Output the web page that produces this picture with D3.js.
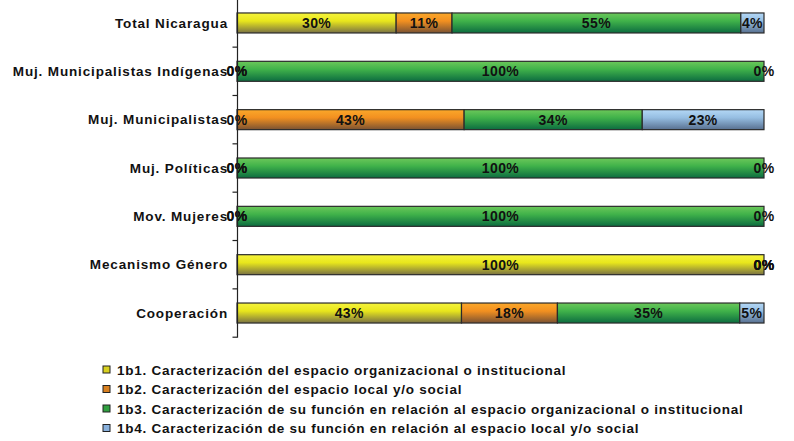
<!DOCTYPE html>
<html>
<head>
<meta charset="utf-8">
<script src="https://cdn.jsdelivr.net/npm/d3@7"></script>
<style>
  body { margin: 0; background: #fff; }
  svg text { font-family: "Liberation Sans", Arial, sans-serif; font-weight: bold; fill: #111; }
</style>
</head>
<body>
<svg id="chart" width="794" height="441"></svg>
<script>
// categories top to bottom
const categories = [
  "Total Nicaragua",
  "Muj. Municipalistas Indígenas",
  "Muj. Municipalistas",
  "Muj. Políticas",
  "Mov. Mujeres",
  "Mecanismo Género ",
  "Cooperación"
];

const seriesNames = [
  "1b1. Caracterización del espacio organizacional o institucional",
  "1b2. Caracterización del espacio local y/o social",
  "1b3. Caracterización de su función en relación al espacio organizacional o institucional",
  "1b4. Caracterización de su función en relación al espacio local y/o social"
];

// percentages per category, one array per series
const s1b1 = [30.2, 0, 0, 0, 0, 100, 42.6];
const s1b2 = [10.6, 0, 43.1, 0, 0, 0, 18.2];
const s1b3 = [54.8, 100, 33.8, 100, 100, 0, 34.6];
const s1b4 = [4.4, 0, 23.1, 0, 0, 0, 4.6];

// colours: top, middle, bottom of the bar gradient
const palette = [
  ["#f6f43c", "#e8e61c", "#7a7244"],
  ["#fba82a", "#f29020", "#7a5232"],
  ["#6cc85a", "#40b24a", "#0c6c40"],
  ["#b4d8f6", "#96bee2", "#587090"]
];
const legendColors = ["#d8d020", "#d88020", "#30a040", "#88b0dc"];

const svg = d3.select("#chart");

const x = d3.scaleLinear().domain([0, 100]).range([237, 764]);
const y = d3.scaleBand().domain(categories).range([-1.2, 337.2]).padding(0);
const barH = 20;

// gradients
const defs = svg.append("defs");
palette.forEach((c, i) => {
  const g = defs.append("linearGradient")
    .attr("id", "g" + i)
    .attr("x1", 0).attr("y1", 0).attr("x2", 0).attr("y2", 1);
  g.append("stop").attr("offset", "0%").attr("stop-color", c[0]);
  g.append("stop").attr("offset", "40%").attr("stop-color", c[1]);
  g.append("stop").attr("offset", "100%").attr("stop-color", c[2]);
});

const series = [s1b1, s1b2, s1b3, s1b4];
const rows = categories.map((cat, i) => {
  const r = { cat };
  series.forEach((s, k) => r["s" + k] = s[i]);
  return r;
});
const stack = d3.stack().keys(["s0", "s1", "s2", "s3"])(rows);

// bars
stack.forEach((layer, k) => {
  svg.append("g").selectAll("rect")
    .data(layer)
    .join("rect")
    .attr("x", d => x(d[0]))
    .attr("y", d => y(d.data.cat) + y.bandwidth() / 2 - barH / 2)
    .attr("width", d => x(d[1]) - x(d[0]))
    .attr("height", barH)
    .attr("fill", "url(#g" + k + ")")
    .attr("stroke", "#2a2a2a")
    .attr("stroke-width", 1.2);
});

// value labels
stack.forEach((layer, k) => {
  svg.append("g").selectAll("text")
    .data(layer)
    .join("text")
    .attr("x", d => (x(d[0]) + x(d[1])) / 2)
    .attr("y", d => y(d.data.cat) + y.bandwidth() / 2 + 5)
    .attr("text-anchor", "middle")
    .style("font-size", "14px")
    .style("letter-spacing", "0.4px")
    .text(d => Math.round(d[1] - d[0]) + "%");
});

// category axis
const yAxis = d3.axisLeft(y).tickSize(0).tickPadding(10);
const ax = svg.append("g").attr("transform", "translate(237,0)").call(yAxis);
ax.select(".domain").attr("stroke", "#222").attr("stroke-width", 1.2);
ax.selectAll("text")
  .style("font-size", "13.5px")
  .style("letter-spacing", "0.85px")
  .style("font-family", "'Liberation Sans', Arial, sans-serif")
  .attr("fill", "#111")
  .attr("x", -9)
  .attr("dy", "0.35em");

// tick marks between categories
const bounds = categories.slice(1).map(c => y(c)).concat([y.range()[1]]);
svg.append("g").selectAll("line")
  .data(bounds)
  .join("line")
  .attr("x1", 232.5).attr("x2", 237)
  .attr("y1", d => d).attr("y2", d => d)
  .attr("stroke", "#222").attr("stroke-width", 1.2);

// legend
const lg = svg.append("g").selectAll("g")
  .data(seriesNames)
  .join("g")
  .attr("transform", (d, i) => `translate(103,${370 + i * 19.5})`);
lg.append("rect")
  .attr("x", 0).attr("y", -4)
  .attr("width", 7).attr("height", 7)
  .attr("fill", (d, i) => legendColors[i])
  .attr("stroke", "#222").attr("stroke-width", 1);
lg.append("text")
  .attr("x", 14).attr("y", 4.5)
  .style("font-size", "13.5px")
  .style("letter-spacing", "0.75px")
  .text(d => d);
</script>
</body>
</html>
